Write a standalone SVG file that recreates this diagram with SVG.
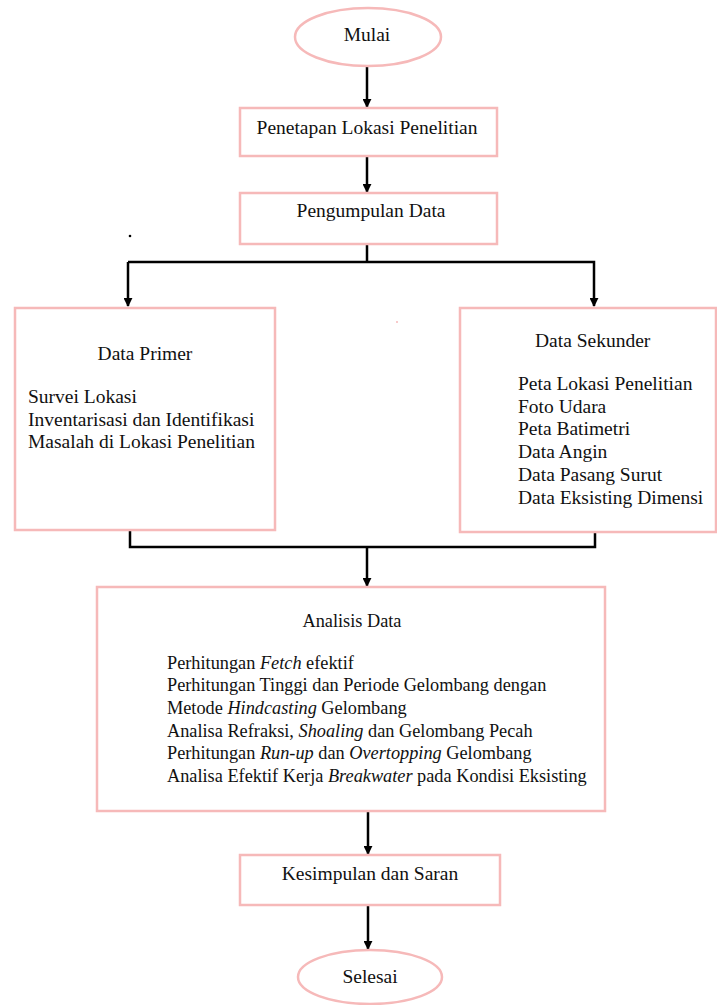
<svg xmlns="http://www.w3.org/2000/svg" width="717" height="1005" viewBox="0 0 717 1005">
<style>
.box{fill:#fff;stroke:#f6b9b9;stroke-width:2.5}
.ln{fill:none;stroke:#000;stroke-width:2.5}
.t{font-family:'Liberation Serif','Times New Roman',serif;font-size:19.5px;fill:#111}
.s{font-size:18.3px}
.c{text-anchor:middle}
.i{font-style:italic}
</style>
<defs>
<marker id="ah" viewBox="0 0 10 10" refX="9" refY="5" markerWidth="3.6" markerHeight="3.6" orient="auto" markerUnits="strokeWidth">
<path d="M0,0 L10,5 L0,10 z" fill="#000"/>
</marker>
</defs>
<rect width="717" height="1005" fill="#fff"/>
<g id="connectors">
<line class="ln" x1="367" y1="67" x2="367" y2="107" marker-end="url(#ah)"/>
<line class="ln" x1="367" y1="156" x2="367" y2="192" marker-end="url(#ah)"/>
<polyline class="ln" points="367,244 367,262"/>
<polyline class="ln" points="128,262 594,262 594,306" marker-end="url(#ah)"/>
<line class="ln" x1="128" y1="262" x2="128" y2="306" marker-end="url(#ah)"/>
<polyline class="ln" points="130,530 130,547 595,547 595,532"/>
<line class="ln" x1="367" y1="547" x2="367" y2="586" marker-end="url(#ah)"/>
<line class="ln" x1="368" y1="811" x2="368" y2="854" marker-end="url(#ah)"/>
<line class="ln" x1="368" y1="905" x2="368" y2="949" marker-end="url(#ah)"/>
</g>
<g id="mulai">
<ellipse class="box" cx="368" cy="37" rx="73" ry="29"/>
<text class="t c" x="367" y="41">Mulai</text>
</g>
<g id="penetapan">
<rect class="box" x="240" y="108" width="257" height="48"/>
<text class="t c" x="367" y="134">Penetapan Lokasi Penelitian</text>
</g>
<g id="pengumpulan">
<rect class="box" x="240" y="193" width="257" height="51"/>
<text class="t c" x="371" y="217">Pengumpulan Data</text>
</g>
<g id="data-primer">
<rect class="box" x="15" y="308" width="260" height="222"/>
<text class="t c" x="145" y="360">Data Primer</text>
<text class="t" x="28" y="403">Survei Lokasi</text>
<text class="t" x="28" y="426">Inventarisasi dan Identifikasi</text>
<text class="t" x="28" y="448">Masalah di Lokasi Penelitian</text>
</g>
<g id="data-sekunder">
<rect class="box" x="460" y="308" width="256" height="224"/>
<text class="t" x="535" y="347">Data Sekunder</text>
<text class="t" x="518" y="390">Peta Lokasi Penelitian</text>
<text class="t" x="518" y="413">Foto Udara</text>
<text class="t" x="518" y="435">Peta Batimetri</text>
<text class="t" x="518" y="458">Data Angin</text>
<text class="t" x="518" y="481">Data Pasang Surut</text>
<text class="t" x="518" y="504">Data Eksisting Dimensi</text>
</g>
<g id="analisis">
<rect class="box" x="97" y="587" width="508" height="224"/>
<text class="t s c" x="352" y="627">Analisis Data</text>
<text class="t s" x="167" y="669">Perhitungan <tspan class="i">Fetch</tspan> efektif</text>
<text class="t s" x="167" y="691">Perhitungan Tinggi dan Periode Gelombang dengan</text>
<text class="t s" x="167" y="714">Metode <tspan class="i">Hindcasting</tspan> Gelombang</text>
<text class="t s" x="167" y="737">Analisa Refraksi, <tspan class="i">Shoaling</tspan> dan Gelombang Pecah</text>
<text class="t s" x="167" y="759">Perhitungan <tspan class="i">Run-up</tspan> dan <tspan class="i">Overtopping</tspan> Gelombang</text>
<text class="t s" x="167" y="782">Analisa Efektif Kerja <tspan class="i">Breakwater</tspan> pada Kondisi Eksisting</text>
</g>
<g id="kesimpulan">
<rect class="box" x="240" y="855" width="260" height="50"/>
<text class="t c" x="370" y="880">Kesimpulan dan Saran</text>
</g>
<g id="selesai">
<ellipse class="box" cx="370" cy="977" rx="72" ry="27"/>
<text class="t c" x="370" y="983">Selesai</text>
</g>
<circle cx="130" cy="236" r="1.3" fill="#000"/>
<circle cx="397" cy="322" r="1" fill="#f6b9b9"/>
</svg>
